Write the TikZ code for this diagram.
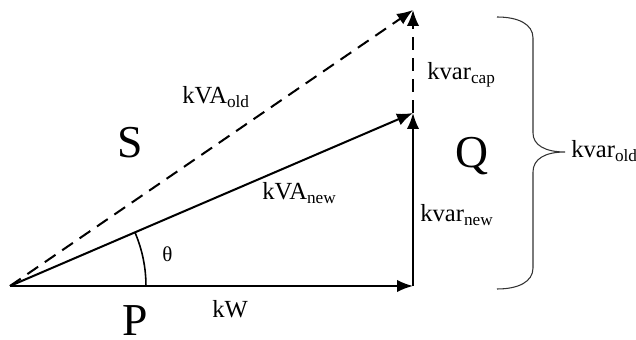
\documentclass[tikz,border=0pt]{standalone}
\usepackage{fontspec}
\setmainfont{Liberation Serif}
\usetikzlibrary{arrows.meta, angles}

\begin{document}
\begin{tikzpicture}[
    x=0.02cm, y=-0.02cm,
    vec/.style={-{Latex[length=0.32cm, width=0.25cm]}, line width=1.15pt, black},
    dsh/.style={dash pattern=on 7.4pt off 4.6pt},
    lbl/.style={font=\fontsize{14}{17}\selectfont, inner sep=0pt, anchor=base west},
    big/.style={font=\fontsize{26}{30}\selectfont, inner sep=0pt, anchor=base},
    brc/.style={line width=0.6pt, black!80}
]

\useasboundingbox (0,0) rectangle (636,340);

\coordinate (O)    at (10,286);
\coordinate (kw)   at (413,286);
\coordinate (knew) at (413,113);
\coordinate (kold) at (413,10);
\coordinate (tip)  at (565,152);

\draw[vec] (O) -- (kw);
\draw[vec] (kw) -- (knew);
\draw[vec] (O) -- (knew);
\draw[vec, dsh] (O) -- (kold);
\draw[vec, dsh] (knew) -- (kold);

\pic[draw, line width=0.9pt, angle radius=2.72cm] {angle=kw--O--knew};

\draw[brc] (497,17) .. controls (518,17) and (533,24) .. (533,38)
    -- (533,133) .. controls (533,145) and (545,152) .. (tip)
    .. controls (545,152) and (533,159) .. (533,172)
    -- (533,268) .. controls (533,282) and (518,289) .. (497,289);

\node[big] (S) at (130,158) {S};
\node[big] (Q) at (472,168) {Q};
\node[big] (P) at (135,336) {P};

\node[lbl] (kvaold)  at (182,104) {kVA\textsubscript{old}};
\node[lbl] (kvanew)  at (262,200) {kVA\textsubscript{new}};
\node[lbl] (kvarcap) at (427,80)  {kvar\textsubscript{cap}};
\node[lbl] (kvarnew) at (420,222) {kvar\textsubscript{new}};
\node[lbl] (kvarold) at (571,158) {kvar\textsubscript{old}};
\node[lbl] (kwl)     at (212,318) {kW};
\node[lbl, font=\fontsize{12}{14}\selectfont] (theta) at (162,262) {θ};

\end{tikzpicture}
\end{document}
